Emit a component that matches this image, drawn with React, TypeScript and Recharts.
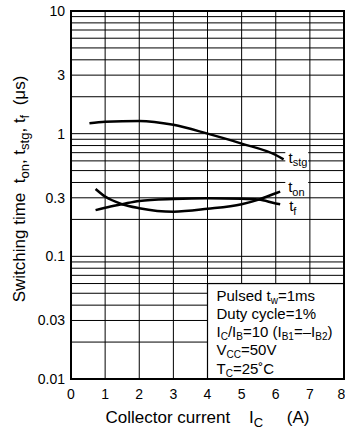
import React from "react";
import {
  LineChart,
  Line,
  XAxis,
  YAxis,
  ReferenceArea,
  ReferenceLine,
  Label,
} from "recharts";

// axis ticks
const currentTicks = [0, 1, 2, 3, 4, 5, 6, 7, 8];
const timeTicks = [0.01, 0.03, 0.1, 0.3, 1, 3, 10];
// log grid lines (2..9 of every decade)
const gridTimes = [
  0.02, 0.03, 0.04, 0.05, 0.06, 0.07, 0.08, 0.09, 0.1,
  0.2, 0.3, 0.4, 0.5, 0.6, 0.7, 0.8, 0.9, 1,
  2, 3, 4, 5, 6, 7, 8, 9,
];
const gridCurrents = [1, 2, 3, 4, 5, 6, 7];

// curves (A, µs)
const tstgCurrent = [0.54, 1, 2, 3, 4, 5, 6, 6.23];
const tstgTime = [1.216, 1.25, 1.27, 1.18, 1.0, 0.83, 0.67, 0.618];

const tonCurrent = [0.72, 1, 1.5, 2, 3, 4, 5, 5.5, 6, 6.13];
const tonTime = [0.354, 0.307, 0.266, 0.247, 0.231, 0.244, 0.266, 0.29, 0.327, 0.337];

const tfCurrent = [0.72, 1, 1.5, 2, 3, 4, 5, 5.5, 6, 6.13];
const tfTime = [0.238, 0.249, 0.266, 0.283, 0.293, 0.297, 0.295, 0.29, 0.27, 0.266];

// condition box corner, and grid lines broken by the curve labels
const boxCurrent = 4;
const boxTime = 0.06;
const labelGapTimes = [0.4, 0.6, 0.7];
const labelGap = [6.28, 6.95];

const toRows = (xs: number[], ys: number[]) =>
  xs.map((c, i) => ({ current: c, time: ys[i] }));

const tstgData = toRows(tstgCurrent, tstgTime);
const tonData = toRows(tonCurrent, tonTime);
const tfData = toRows(tfCurrent, tfTime);

const FONT = "'Liberation Sans', Arial, sans-serif";

// horizontal grid as segments so the box and labels stay clear
const hSegments: { key: string; seg: { x: number; y: number }[] }[] = [];
gridTimes.forEach((v) => {
  if (v < boxTime) {
    hSegments.push({ key: `h${v}`, seg: [{ x: 0, y: v }, { x: boxCurrent, y: v }] });
  } else if (labelGapTimes.includes(v)) {
    hSegments.push({ key: `h${v}a`, seg: [{ x: 0, y: v }, { x: labelGap[0], y: v }] });
    hSegments.push({ key: `h${v}b`, seg: [{ x: labelGap[1], y: v }, { x: 8, y: v }] });
  } else {
    hSegments.push({ key: `h${v}`, seg: [{ x: 0, y: v }, { x: 8, y: v }] });
  }
});
const vSegments = gridCurrents.map((c) => ({
  key: `v${c}`,
  seg: [
    { x: c, y: c > boxCurrent ? boxTime : 0.01 },
    { x: c, y: 10 },
  ],
}));

// "t" + subscript label at the end of a curve
const endLabel =
  (sub: string, last: number, dx: number, dy: number, subDy: number) =>
  (props: any) => {
    if (props.index !== last) return null;
    return (
      <text x={props.x + dx} y={props.y + dy} fontSize={15} fontFamily={FONT} fill="#000">
        t
        <tspan dy={subDy} fontSize={11}>
          {sub}
        </tspan>
      </text>
    );
  };

const YTitle = (props: any) => {
  const vb = props.viewBox;
  const cx = vb.x + 25;
  const cy = vb.y + vb.height / 2 - 6;
  return (
    <text
      x={cx}
      y={cy}
      transform={`rotate(-90, ${cx}, ${cy})`}
      textAnchor="middle"
      fontSize={17}
      fontFamily={FONT}
      fill="#000"
      style={{ whiteSpace: "pre" }}
    >
      {"Switching time  t"}
      <tspan dy={4} fontSize={13}>on</tspan>
      <tspan dy={-4}>{", t"}</tspan>
      <tspan dy={4} fontSize={13}>stg</tspan>
      <tspan dy={-4}>{", t"}</tspan>
      <tspan dy={4} fontSize={13}>f</tspan>
      <tspan dy={-4}>{"  (\u03bcs)"}</tspan>
    </text>
  );
};

const XTitle = (props: any) => {
  const vb = props.viewBox;
  return (
    <text
      x={vb.x + vb.width / 2}
      y={vb.y + 44}
      textAnchor="middle"
      fontSize={17}
      fontFamily={FONT}
      fill="#000"
      style={{ whiteSpace: "pre" }}
    >
      {"Collector current    I"}
      <tspan dy={4} fontSize={13}>C</tspan>
      <tspan dy={-4}>{"     (A)"}</tspan>
    </text>
  );
};

// condition box in the lower right corner
const ConditionBox = (props: any) => {
  const { x, y, width, height } = props;
  const tx = x + 9;
  const ty = y + 17;
  const lh = 18.3;
  const s = 10;
  return (
    <g fontFamily={FONT} fontSize={15} fill="#000">
      <rect x={x} y={y} width={width} height={height} fill="#fff" stroke="#000" strokeWidth={1.2} />
      <text x={tx} y={ty}>
        Pulsed t<tspan dy={3} fontSize={s}>w</tspan>
        <tspan dy={-3}>=1ms</tspan>
      </text>
      <text x={tx} y={ty + lh}>Duty cycle=1%</text>
      <text x={tx} y={ty + lh * 2}>
        I<tspan dy={3} fontSize={s}>C</tspan>
        <tspan dy={-3}>/I</tspan>
        <tspan dy={3} fontSize={s}>B</tspan>
        <tspan dy={-3}>=10 (I</tspan>
        <tspan dy={3} fontSize={s}>B1</tspan>
        <tspan dy={-3}>={"\u2013"}I</tspan>
        <tspan dy={3} fontSize={s}>B2</tspan>
        <tspan dy={-3}>)</tspan>
      </text>
      <text x={tx} y={ty + lh * 3}>
        V<tspan dy={3} fontSize={s}>CC</tspan>
        <tspan dy={-3}>=50V</tspan>
      </text>
      <text x={tx} y={ty + lh * 4}>
        T<tspan dy={3} fontSize={s}>C</tspan>
        <tspan dy={-3}>=25{"\u02da"}C</tspan>
      </text>
    </g>
  );
};

export default function App() {
  return (
    <div
      style={{
        position: "absolute",
        left: 0,
        top: 0,
        width: 345,
        height: 435,
        background: "#fff",
        overflow: "hidden",
      }}
    >
      <LineChart
        width={345}
        height={435}
        margin={{ top: 11, right: 1, left: 0, bottom: 0 }}
      >
        <XAxis
          type="number"
          dataKey="current"
          domain={[0, 8]}
          ticks={currentTicks}
          allowDataOverflow
          height={56}
          axisLine={false}
          tickLine={false}
          tickSize={6}
          tickMargin={4}
          tick={{ fontSize: 14, fill: "#000", fontFamily: FONT }}
        >
          <Label content={XTitle} />
        </XAxis>
        <YAxis
          type="number"
          dataKey="time"
          scale="log"
          domain={[0.01, 10]}
          ticks={timeTicks}
          allowDataOverflow
          width={71}
          axisLine={false}
          tickLine={false}
          tickSize={6}
          tickMargin={0}
          tick={{ fontSize: 14, fill: "#000", fontFamily: FONT }}
        >
          <Label content={YTitle} />
        </YAxis>
        <ReferenceArea
          x1={boxCurrent}
          x2={8}
          y1={0.01}
          y2={boxTime}
          ifOverflow="visible"
          shape={ConditionBox}
        />
        {hSegments.map((h) => (
          <ReferenceLine key={h.key} segment={h.seg} stroke="#000" strokeWidth={1} ifOverflow="visible" />
        ))}
        {vSegments.map((v) => (
          <ReferenceLine key={v.key} segment={v.seg} stroke="#000" strokeWidth={1} ifOverflow="visible" />
        ))}
        <ReferenceArea
          x1={0}
          x2={8}
          y1={0.01}
          y2={10}
          fill="none"
          stroke="#000"
          strokeWidth={2}
          ifOverflow="visible"
        />
        <Line
          data={tstgData}
          dataKey="time"
          type="monotone"
          stroke="#000"
          strokeWidth={2.5}
          dot={false}
          isAnimationActive={false}
          label={endLabel("stg", tstgData.length - 1, 5, 4, 3)}
        />
        <Line
          data={tonData}
          dataKey="time"
          type="monotone"
          stroke="#000"
          strokeWidth={2.5}
          dot={false}
          isAnimationActive={false}
          label={endLabel("on", tonData.length - 1, 8, 0, 4)}
        />
        <Line
          data={tfData}
          dataKey="time"
          type="monotone"
          stroke="#000"
          strokeWidth={2.5}
          dot={false}
          isAnimationActive={false}
          label={endLabel("f", tfData.length - 1, 9, 7, 4)}
        />
      </LineChart>
    </div>
  );
}
